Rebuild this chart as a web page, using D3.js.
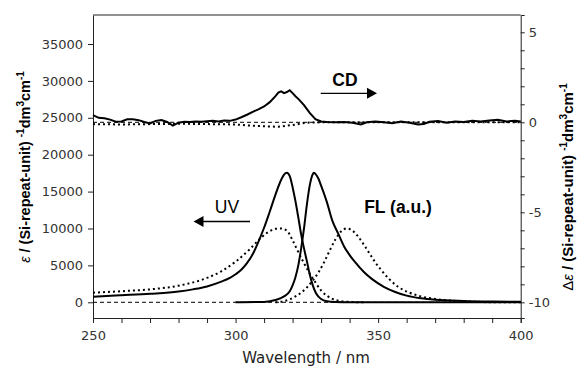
<!DOCTYPE html>
<html>
<head>
<meta charset="utf-8">
<script src="https://cdn.jsdelivr.net/npm/d3@7"></script>
<style>
  body { margin: 0; background: #fff; }
  svg text { font-family: "DejaVu Sans", sans-serif; }
  svg text.arial { font-family: "Liberation Sans", Arial, sans-serif; }
</style>
</head>
<body>
<svg id="chart" width="579" height="369"></svg>
<script>
// wavelength / value pairs
const uvSolid = [[250,760],[260,950],[270,1150],[280,1450],[285,1750],[290,2150],[295,2800],[298,3300],[300,3800],[302,4400],[304,5300],[306,6500],[308,8200],[310,10100],[312,12300],[314,14600],[316,16600],[317,17300],[318,17550],[319,17100],[320,15600],[321,13700],[322,11500],[323,9200],[324,7300],[325,5600],[326,3800],[327,2400],[328,1400],[329,800],[330,450],[332,150],[335,40],[340,0],[400,0]];
const uvDotted = [[250,1300],[260,1500],[270,1750],[280,2250],[290,3300],[295,4200],[300,5500],[305,7200],[308,8400],[311,9400],[314,9950],[316,10000],[318,9700],[320,8400],[322,6800],[324,5300],[326,3900],[328,2700],[330,1600],[332,900],[334,450],[337,150],[340,50],[345,0]];
const flSolid = [[300,0],[310,50],[314,300],[317,800],[319,1500],[320,2300],[321,3400],[322,5000],[323,7300],[324,10000],[325,13200],[326,15800],[327,17300],[327.5,17550],[328,17400],[329,16800],[330,15800],[332,13600],[334,11000],[336,9300],[338,7600],[340,6400],[342,5400],[345,4100],[348,3100],[352,2100],[356,1400],[360,900],[365,550],[370,350],[380,180],[390,100],[400,60]];
const flDotted = [[314,0],[317,150],[319,400],[321,800],[323,1300],[325,2000],[327,2900],[329,4000],[331,5400],[333,7000],[335,8500],[337,9600],[339,10000],[341,9700],[343,8900],[345,7800],[347,6600],[349,5400],[351,4400],[354,3100],[357,2100],[361,1300],[365,800],[370,450],[375,250],[380,130],[385,60],[390,0],[400,0]];
const cdSolid = [[250,0.40],[252,0.25],[254,0.22],[256,0.15],[258,0.03],[260,0.05],[262,0.17],[264,0.17],[266,0.12],[268,0.02],[270,-0.06],[272,0.08],[274,0.13],[276,0.02],[278,-0.18],[280,-0.02],[282,0.03],[284,0.02],[286,0.05],[288,0.03],[290,0.06],[292,0.08],[294,0.05],[296,0.1],[298,0.08],[300,0.15],[302,0.28],[304,0.42],[306,0.58],[308,0.72],[310,0.88],[312,1.12],[314,1.45],[315,1.65],[316,1.72],[317,1.62],[318,1.68],[319,1.78],[320,1.62],[321,1.45],[322,1.3],[324,0.95],[326,0.52],[328,0.18],[330,0.05],[332,0.02],[335,0.0],[338,0.02],[341,-0.02],[344,-0.12],[346,0.0],[349,0.05],[352,0.0],[355,-0.05],[358,0.05],[361,-0.02],[364,-0.12],[366,-0.1],[368,0.03],[371,0.07],[374,-0.02],[377,0.05],[380,0.02],[383,0.08],[386,0.04],[389,0.1],[392,0.14],[395,0.05],[398,0.08],[400,0.05]];
const cdDotted = [[250,-0.1],[260,-0.12],[270,-0.1],[280,-0.08],[290,-0.1],[300,-0.12],[305,-0.18],[310,-0.22],[315,-0.25],[320,-0.15],[325,-0.02],[330,0],[400,0]];
const leftTicks = [0, 5000, 10000, 15000, 20000, 25000, 30000, 35000];
const rightTicks = [5, 0, -5, -10];
const xTicks = [250, 300, 350, 400];

const svg = d3.select('#chart');
const mLeft = 93, mRight = 520.7, mTop = 15, mBottom = 318;

const x = d3.scaleLinear().domain([250, 400]).range([mLeft, mRight]);
const yL = d3.scaleLinear().domain([-2130, 38930]).range([mBottom, mTop]);
const yR = d3.scaleLinear().domain([-10.87, 5.96]).range([mBottom, mTop]);

// frame top
svg.append('line').attr('x1', mLeft).attr('x2', mRight).attr('y1', mTop).attr('y2', mTop)
  .attr('stroke', '#222').attr('stroke-width', 1);

// axes
const styleAxis = g => {
  g.select('.domain').attr('stroke', '#222');
  g.selectAll('.tick line').attr('stroke', '#222');
  g.selectAll('.tick text').attr('fill', '#333').style('font-size', '13px');
};
svg.append('g').attr('transform', `translate(0,${mBottom})`)
  .call(d3.axisBottom(x).tickValues(d3.range(250, 401, 10)).tickSizeOuter(0)
    .tickSize(5).tickFormat(d => xTicks.includes(d) ? d : ''))
  .call(styleAxis)
  .call(g => g.selectAll('.tick text').attr('dy', '1.1em'));

svg.append('g').attr('transform', `translate(${mLeft},0)`)
  .call(d3.axisLeft(yL).tickValues(leftTicks).tickSize(5).tickSizeOuter(0).tickPadding(5)
    .tickFormat(d3.format('d')))
  .call(styleAxis);

svg.append('g').attr('transform', `translate(${mRight},0)`)
  .call(d3.axisRight(yR).tickValues(d3.range(-10, 6, 1)).tickSizeOuter(0).tickPadding(4)
    .tickSize(4).tickFormat(d => rightTicks.includes(d) ? d : ''))
  .call(styleAxis);

// zero baselines
svg.append('line').attr('x1', x(250)).attr('x2', x(400)).attr('y1', yL(0)).attr('y2', yL(0))
  .attr('stroke', '#000').attr('stroke-width', 1).attr('stroke-dasharray', '4,3');
svg.append('line').attr('x1', x(250)).attr('x2', x(400)).attr('y1', yR(0)).attr('y2', yR(0))
  .attr('stroke', '#000').attr('stroke-width', 1).attr('stroke-dasharray', '4,3');

const lineL = d3.line().x(d => x(d[0])).y(d => yL(d[1])).curve(d3.curveMonotoneX);
const lineR = d3.line().x(d => x(d[0])).y(d => yR(d[1])).curve(d3.curveLinear);

const plot = svg.append('g');
[[uvDotted, true], [flDotted, true], [uvSolid, false], [flSolid, false]].forEach(([d, dotted]) => {
  plot.append('path').attr('d', lineL(d)).attr('fill', 'none').attr('stroke', '#000')
    .attr('stroke-width', 2).attr('stroke-dasharray', dotted ? '2,3' : null);
});
plot.append('path').attr('d', lineR(cdDotted)).attr('fill', 'none').attr('stroke', '#000')
  .attr('stroke-width', 2).attr('stroke-dasharray', '2,3');
plot.append('path').attr('d', lineR(cdSolid)).attr('fill', 'none').attr('stroke', '#000')
  .attr('stroke-width', 2);

// annotations with arrows
const arrow = (x1, x2, y) => {
  const dir = Math.sign(x2 - x1);
  svg.append('line').attr('x1', x1).attr('x2', x2 - dir * 8).attr('y1', y).attr('y2', y)
    .attr('stroke', '#000').attr('stroke-width', 1.3);
  svg.append('path').attr('d', `M${x2},${y}L${x2 - dir * 10},${y - 5.5}L${x2 - dir * 10},${y + 5.5}Z`)
    .attr('fill', '#000');
};
arrow(320.7, 377, 93.3);
arrow(250, 193.5, 221.5);

svg.append('text').attr('class', 'arial').attr('x', 345).attr('y', 86).attr('text-anchor', 'middle')
  .style('font-size', '17.5px').style('font-weight', 'bold').text('CD');
svg.append('text').attr('class', 'arial').attr('x', 227).attr('y', 213).attr('text-anchor', 'middle')
  .style('font-size', '17.5px').text('UV');
svg.append('text').attr('class', 'arial').attr('x', 398).attr('y', 213).attr('text-anchor', 'middle')
  .style('font-size', '17.5px').style('font-weight', 'bold').text('FL (a.u.)');

// axis titles
svg.append('text').attr('x', 306).attr('y', 363).attr('text-anchor', 'middle')
  .attr('fill', '#222').style('font-size', '15px').text('Wavelength / nm');

const yTitle = (cx, cy, size, pre) => {
  const t = svg.append('text').attr('class', 'arial')
    .attr('transform', `translate(${cx},${cy}) rotate(-90)`)
    .attr('text-anchor', 'middle').style('font-size', size + 'px').style('font-weight', 'bold');
  pre(t);
  t.append('tspan').text(' / (Si-repeat-unit) ');
  t.append('tspan').attr('dy', -6).style('font-size', '10px').text('-1');
  t.append('tspan').attr('dy', 6).text('dm');
  t.append('tspan').attr('dy', -6).style('font-size', '10px').text('3');
  t.append('tspan').attr('dy', 6).text('cm');
  t.append('tspan').attr('dy', -6).style('font-size', '10px').text('-1');
};
yTitle(30, 167, 14.5, t => t.append('tspan').style('font-style', 'italic').style('font-weight', 'normal').text('ε'));
yTitle(573, 187, 15, t => {
  t.append('tspan').style('font-weight', 'normal').text('Δ');
  t.append('tspan').style('font-style', 'italic').style('font-weight', 'normal').text('ε');
});
</script>
</body>
</html>
